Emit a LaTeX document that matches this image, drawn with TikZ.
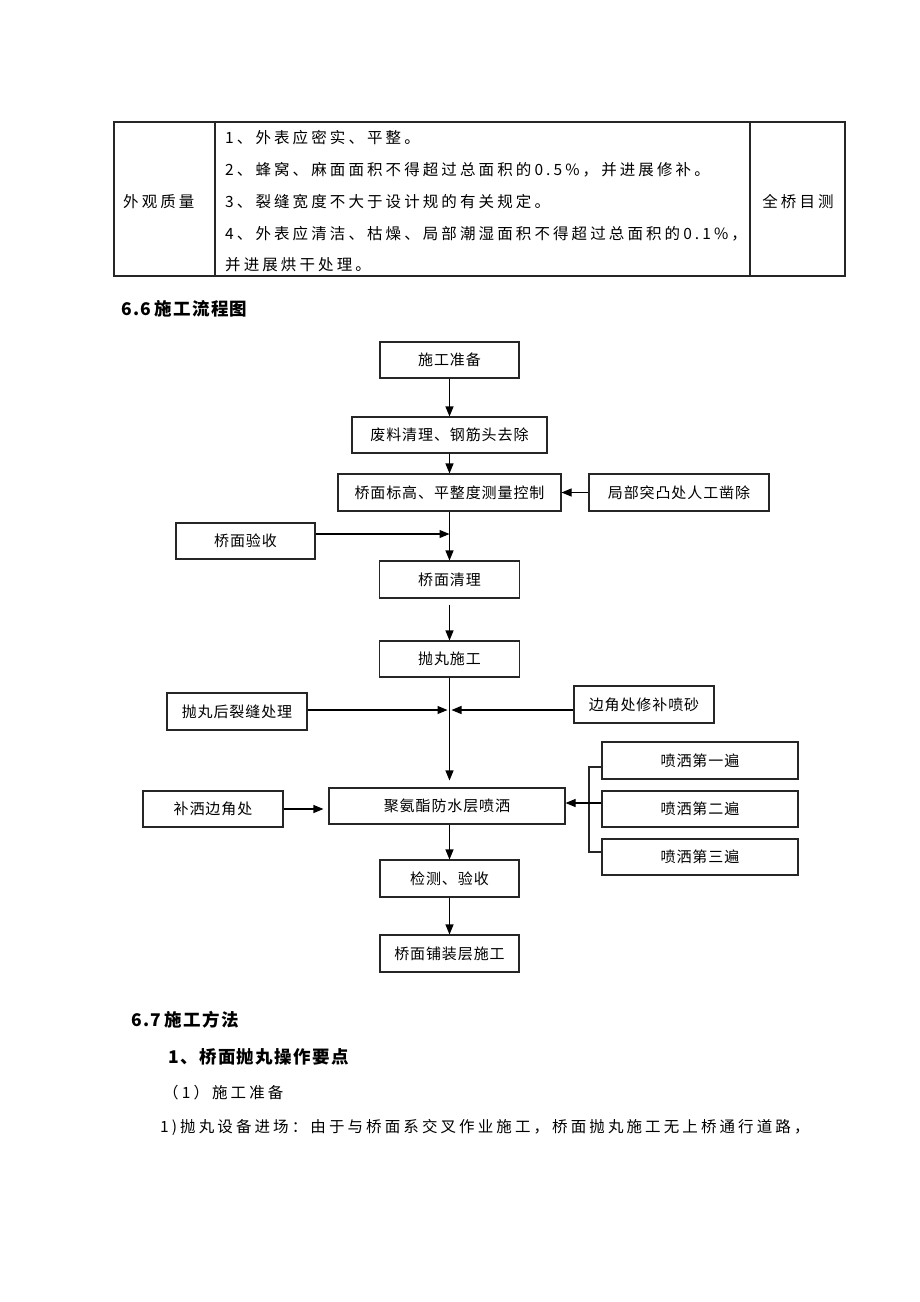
\documentclass[tikz,border=0pt]{standalone}
\usepackage{fontspec}
\setmainfont{Noto Sans CJK SC}
\newfontfamily\flowfont[LetterSpace=6]{Noto Sans CJK SC}
\newfontfamily\bodyfont[LetterSpace=20]{Noto Sans CJK SC}
\newfontfamily\headfont[LetterSpace=8]{Noto Sans CJK SC}
\usetikzlibrary{arrows.meta,positioning}

\tikzstyle{flow}  = [rectangle, draw=black!85, line width=1.1pt
                    , minimum height=36pt, inner sep=0pt, text centered
                    , font=\flowfont\fontsize{15}{18}\selectfont]
\tikzstyle{link}  = [draw=black, line width=1.1pt
                    , -{Triangle[length=10pt,width=8pt]}]
\tikzstyle{plain} = [draw=black!85, line width=1.1pt]
\tikzstyle{cell}  = [anchor=west, inner sep=0pt
                    , font=\bodyfont\fontsize{15.5}{18}\selectfont]
\tikzstyle{head}  = [cell, font=\headfont\bfseries\fontsize{17.5}{20}\selectfont]

\begin{document}
\begin{tikzpicture}[x=1pt, y=-1pt]
\useasboundingbox (0,0) rectangle (920,1302);

%% Quality table
\draw[plain] (114,122) rectangle (845,276);
\draw[plain] (215,122) -- (215,276);
\draw[plain] (750,122) -- (750,276);
\node [cell] (Quality-Label) at (123,202) {外观质量};
\node [cell] (Quality-Row1) at (225,138) {1、外表应密实、平整。};
\node [cell] (Quality-Row2) at (225,170) {2、蜂窝、麻面面积不得超过总面积的0.5\%，并进展修补。};
\node [cell] (Quality-Row3) at (225,202) {3、裂缝宽度不大于设计规的有关规定。};
\node [cell] (Quality-Row4) at (225,234) {4、外表应清洁、枯燥、局部潮湿面积不得超过总面积的0.1\%，};
\node [cell] (Quality-Row5) at (225,265) {并进展烘干处理。};
\node [cell, anchor=center] (Quality-Check) at (798,202) {全桥目测};

%% Flow chart title
\node [head] (Flow-Title) at (121,309) {6.6\,施工流程图};

%% Main line
\node [flow, minimum width=139pt] (Prep-Box) at (449.5,360) {施工准备};
\node [flow, minimum width=195pt] (Waste-Box) at (449.5,435) {废料清理、钢筋头去除};
\node [flow, minimum width=223pt, minimum height=37pt] (Level-Box) at (449.5,492.5) {桥面标高、平整度测量控制};
\node [flow, minimum width=140pt, minimum height=37pt] (DeckClean-Box) at (449.5,579.5) {桥面清理};
\node [flow, minimum width=140pt] (Blast-Box) at (449.5,659) {抛丸施工};
\node [flow, minimum width=236pt] (Poly-Box) at (447,806) {聚氨酯防水层喷洒};
\node [flow, minimum width=139pt, minimum height=37pt] (Check-Box) at (449.5,878.5) {检测、验收};
\node [flow, minimum width=139pt, minimum height=37pt] (Pave-Box) at (449.5,953.5) {桥面铺装层施工};

%% Side boxes
\node [flow, minimum width=180pt, minimum height=37pt] (Chisel-Box) at (679,492.5) {局部突凸处人工凿除};
\node [flow, minimum width=139pt] (DeckAccept-Box) at (245.5,541) {桥面验收};
\node [flow, minimum width=140pt, minimum height=37pt] (Crack-Box) at (237,711.5) {抛丸后裂缝处理};
\node [flow, minimum width=140pt, minimum height=37pt] (Edge-Box) at (644,704.5) {边角处修补喷砂};
\node [flow, minimum width=140pt] (Patch-Box) at (213,809) {补洒边角处};
\node [flow, minimum width=196pt, minimum height=37pt] (Spray1-Box) at (700,760.5) {喷洒第一遍};
\node [flow, minimum width=196pt] (Spray2-Box) at (700,809) {喷洒第二遍};
\node [flow, minimum width=196pt] (Spray3-Box) at (700,857) {喷洒第三遍};

%% Joins
\coordinate (Accept-Join) at (449.5,534);
\coordinate (Blast-Join) at (449.5,710);
\coordinate (Spray-Top) at (589,767);
\coordinate (Spray-Bus) at (589,803);
\coordinate (Spray-Bottom) at (589,852);

%% Connectors
\draw[link] (Prep-Box) -- (Waste-Box);
\draw[link] (Waste-Box) -- (Level-Box);
\draw[link] (Chisel-Box) -- (Level-Box);
\draw[link] (Level-Box) -- (DeckClean-Box);
\draw[link] (DeckAccept-Box.east |- Accept-Join) -- (Accept-Join);
\draw[link, shorten <=6pt] (DeckClean-Box) -- (Blast-Box);
\draw[link, shorten >=7pt] (Blast-Box) -- (Blast-Box |- Poly-Box.north);
\draw[link, shorten >=2pt] (Crack-Box.east |- Blast-Join) -- (Blast-Join);
\draw[link, shorten >=2pt] (Edge-Box.west |- Blast-Join) -- (Blast-Join);
\draw[link, shorten >=5pt] (Patch-Box.east) -- (Patch-Box.east -| Poly-Box.west);
\draw[plain] (Spray1-Box.west |- Spray-Top) -- (Spray-Top) -- (Spray-Bottom)
  -- (Spray3-Box.west |- Spray-Bottom);
\draw[link] (Spray2-Box.west |- Spray-Bus) -- (Poly-Box.east |- Spray-Bus);
\draw[link] (Poly-Box.south -| Check-Box) -- (Check-Box);
\draw[link] (Check-Box) -- (Pave-Box);

%% Method text
\node [head] (Method-Title) at (131,1020) {6.7\,施工方法};
\node [head] (Shot-Title) at (168,1057) {1、桥面抛丸操作要点};
\node [cell] (Prep-Step) at (163,1093) {（1）施工准备};
\node [cell] (Entry-Step) at (160,1127) {1)抛丸设备进场：由于与桥面系交叉作业施工，桥面抛丸施工无上桥通行道路，};

\end{tikzpicture}
\end{document}
